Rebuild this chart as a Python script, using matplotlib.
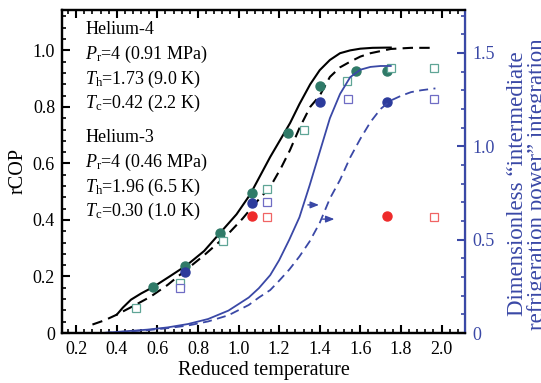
import matplotlib
matplotlib.use('Agg')
import matplotlib.pyplot as plt
from matplotlib.ticker import MultipleLocator

plt.rcParams['font.family'] = 'Liberation Serif'
plt.rcParams['mathtext.fontset'] = 'custom'
plt.rcParams['mathtext.rm'] = 'Liberation Serif'
plt.rcParams['mathtext.it'] = 'Liberation Serif:italic'

# Helium-4 theory curves (rCOP, left axis)
he4_solid_x = [0.40, 0.43, 0.47, 0.52, 0.58, 0.66, 0.745, 0.83, 0.91, 0.99, 1.057, 1.156, 1.205,
               1.254, 1.30, 1.353, 1.40, 1.45, 1.50, 1.55, 1.60, 1.66, 1.75]
he4_solid_y = [0.065, 0.09, 0.118, 0.14, 0.163, 0.20, 0.24, 0.29, 0.355, 0.42, 0.49, 0.623, 0.683,
               0.743, 0.81, 0.88, 0.93, 0.966, 0.99, 1.0, 1.006, 1.009, 1.01]
he4_dash_x = [0.28, 0.34, 0.40, 0.48, 0.565, 0.65, 0.727, 0.83, 0.944, 1.02, 1.09, 1.156, 1.21,
              1.254, 1.30, 1.353, 1.40, 1.45, 1.50, 1.55, 1.60, 1.65, 1.75, 1.85, 1.97]
he4_dash_y = [0.03, 0.045, 0.065, 0.095, 0.128, 0.17, 0.215, 0.275, 0.347, 0.405, 0.465, 0.517, 0.585,
              0.648, 0.725, 0.80, 0.84, 0.906, 0.94, 0.96, 0.978, 0.99, 1.005, 1.009, 1.009]

# integration curves (right axis)
int_solid_x = [0.33, 0.45, 0.55, 0.65, 0.75, 0.85, 0.95, 1.05, 1.10, 1.156, 1.20, 1.25, 1.30,
               1.35, 1.40, 1.45, 1.50, 1.55, 1.60, 1.65, 1.70, 1.75]
int_solid_y = [0.0, 0.01, 0.018, 0.03, 0.048, 0.075, 0.12, 0.19, 0.24, 0.31, 0.39, 0.50, 0.62,
               0.79, 0.97, 1.15, 1.28, 1.37, 1.41, 1.425, 1.43, 1.43]
int_dash_x = [0.33, 0.45, 0.55, 0.65, 0.75, 0.85, 0.95, 1.05, 1.10, 1.156, 1.20, 1.25, 1.30,
              1.35, 1.40, 1.45, 1.50, 1.55, 1.60, 1.65, 1.70, 1.75, 1.80, 1.85, 1.90, 1.97]
int_dash_y = [0.0, 0.008, 0.015, 0.026, 0.04, 0.062, 0.095, 0.15, 0.19, 0.23, 0.28, 0.34, 0.41,
              0.49, 0.59, 0.72, 0.82, 0.94, 1.04, 1.13, 1.20, 1.245, 1.27, 1.29, 1.30, 1.31]

# measured / computed points
green_dot_x = [0.58, 0.737, 0.91, 1.067, 1.244, 1.40, 1.58, 1.73]
green_dot_y = [0.163, 0.237, 0.354, 0.496, 0.708, 0.874, 0.928, 0.928]
blue_dot_x = [0.737, 1.067, 1.40, 1.73]
blue_dot_y = [0.215, 0.46, 0.818, 0.818]
red_dot_x = [1.067, 1.73]
red_dot_y = [0.414, 0.414]
green_sq_x = [0.496, 0.712, 0.924, 1.14, 1.323, 1.535, 1.75, 1.965]
green_sq_y = [0.088, 0.177, 0.326, 0.51, 0.718, 0.89, 0.937, 0.937]
blue_sq_x = [0.712, 1.14, 1.54, 1.965]
blue_sq_y = [0.158, 0.465, 0.828, 0.828]
red_sq_x = [1.14, 1.965]
red_sq_y = [0.41, 0.41]

info_lines = ['Helium-4',
              r'$P_{\rm r}$=4 (0.91 MPa)',
              r'$T_{\rm h}$=1.73 (9.0 K)',
              r'$T_{\rm c}$=0.42 (2.2 K)',
              'Helium-3',
              r'$P_{\rm r}$=4 (0.46 MPa)',
              r'$T_{\rm h}$=1.96 (6.5 K)',
              r'$T_{\rm c}$=0.30 (1.0 K)']

blue = '#3a48a6'
teal = '#2f7a68'

fig = plt.figure(figsize=(5.41, 3.83), dpi=100)
ax = fig.add_axes([0.1146, 0.1305, 0.745, 0.8435])
ax2 = ax.twinx()

ax.plot(he4_solid_x, he4_solid_y, color='black', lw=1.5)
ax.plot(he4_dash_x, he4_dash_y, color='black', lw=1.5, dashes=(5, 3))
ax2.plot(int_solid_x, int_solid_y, color=blue, lw=1.3)
ax2.plot(int_dash_x, int_dash_y, color=blue, lw=1.3, dashes=(5, 3))

ax.plot(green_dot_x, green_dot_y, 'o', color=teal, ms=6.5, zorder=5)
ax.plot(blue_dot_x, blue_dot_y, 'o', color='#2c3b9c', ms=6.5, zorder=5)
ax.plot(red_dot_x, red_dot_y, 'o', color='#ee2b2b', ms=6.5, zorder=5)
ax.plot(green_sq_x, green_sq_y, 's', mfc='white', mec='#5fa596', mew=0.9, ms=6, zorder=5)
ax.plot(blue_sq_x, blue_sq_y, 's', mfc='white', mec='#6f6cc4', mew=0.9, ms=6, zorder=5)
ax.plot(red_sq_x, red_sq_y, 's', mfc='white', mec='#f06464', mew=0.9, ms=6, zorder=5)

# arrows pointing to the right axis
arrow = dict(arrowstyle='-|>,head_length=0.5,head_width=0.2', color=blue, lw=1.0)
ax2.annotate('', xy=(1.41, 0.686), xytext=(1.328, 0.686), arrowprops=arrow)
ax2.annotate('', xy=(1.486, 0.61), xytext=(1.40, 0.61), arrowprops=arrow)

ax.set_xlim(0.13, 2.116)
ax.set_ylim(0, 1.143)
ax2.set_ylim(0, 1.73)

ax.xaxis.set_major_locator(MultipleLocator(0.2))
ax.xaxis.set_minor_locator(MultipleLocator(0.04))
ax.yaxis.set_minor_locator(MultipleLocator(0.04))
ax2.yaxis.set_minor_locator(MultipleLocator(0.1))
ax.set_yticks([0, 0.2, 0.4, 0.6, 0.8, 1.0])
ax.set_yticklabels(['0', '0.2', '0.4', '0.6', '0.8', '1.0'])
ax2.set_yticks([0, 0.5, 1.0, 1.5])
ax2.set_yticklabels(['0', '0.5', '1.0', '1.5'])

ax.tick_params(axis='x', which='both', direction='in', top=True, labelsize=13, width=1.5, pad=6)
ax.tick_params(axis='y', which='both', direction='in', right=False, labelsize=13, width=1.5, pad=5)
ax.tick_params(which='major', length=6)
ax.tick_params(which='minor', length=3, width=1.2)
ax2.tick_params(axis='y', which='both', direction='in', colors=blue, labelsize=13, width=1.5, pad=5)
ax2.tick_params(which='major', length=6)
ax2.tick_params(which='minor', length=3, width=1.2)

for s in ['left', 'bottom', 'top']:
    ax.spines[s].set_linewidth(1.6)
    ax2.spines[s].set_linewidth(1.6)
ax2.spines['right'].set_color(blue)
ax2.spines['right'].set_linewidth(1.6)

ax.set_xlabel('Reduced temperature', fontsize=14.5, labelpad=2)
ax.set_ylabel('rCOP', fontsize=14.5, labelpad=4)
ax2.set_ylabel('Dimensionless \u201cintermediate\nrefrigeration power\u201d integration',
               fontsize=16.5, color=blue, linespacing=0.95)
ax2.yaxis.set_label_coords(1.104, 0.461)

for i, line in enumerate(info_lines):
    ypos = 0.938 - i * 0.076 - (0.03 if i >= 4 else 0)
    ax.text(0.058, ypos, line, transform=ax.transAxes, fontsize=13, va='center', ha='left')

fig.savefig('out.png', dpi=100)
